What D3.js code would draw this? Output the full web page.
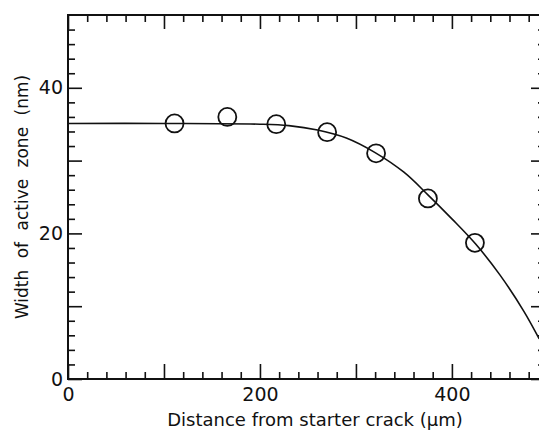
<!DOCTYPE html>
<html>
<head>
<meta charset="utf-8">
<script src="https://cdn.jsdelivr.net/npm/d3@7"></script>
<style>
  body { margin: 0; background: #fff; }
  svg { display: block; }
  text { font-family: "DejaVu Sans", sans-serif; fill: #111; }
</style>
</head>
<body>
<svg id="chart" width="539" height="430"></svg>
<script>
// measured points (distance in um, width in nm)
var pointX = [111, 166, 217, 270, 321, 375, 424];
var pointY = [35.1, 36.0, 35.0, 33.9, 31.0, 24.8, 18.7];

// fitted curve
var curveX = [0, 100, 200, 230, 260, 290, 320, 350, 375, 400, 425, 450, 475, 491];
var curveY = [35.1, 35.1, 35.0, 34.8, 34.2, 33.1, 31.1, 28.4, 25.3, 22.0, 18.5, 14.3, 9.3, 5.5];

var xLabels = [0, 200, 400];
var yLabels = [0, 20, 40];

var svg = d3.select("#chart"),
    plotLeft = 68, plotRight = 545, plotTop = 15, plotBottom = 379;

var x = d3.scaleLinear().domain([0, 497]).range([plotLeft, plotRight]);
var y = d3.scaleLinear().domain([0, 50]).range([plotBottom, plotTop]);

var minorX = d3.range(0, 497, 20).filter(function(v) { return v % 100 != 0; }),
    majorX = d3.range(0, 497, 100),
    minorY = d3.range(0, 50, 2).filter(function(v) { return v % 10 != 0; }),
    majorY = d3.range(0, 50, 10);

function fmt(list) {
    return function(d) { return list.indexOf(d) >= 0 ? d : ""; };
}

// frame
svg.append("rect")
    .attr("x", plotLeft).attr("y", plotTop)
    .attr("width", plotRight - plotLeft).attr("height", plotBottom - plotTop)
    .attr("fill", "none").attr("stroke", "#111").attr("stroke-width", 2);

function addAxis(axis, tr) {
    var g = svg.append("g").attr("transform", tr).call(axis);
    g.select(".domain").remove();
    g.selectAll("line").attr("stroke", "#111").attr("stroke-width", 1.6);
    return g;
}

// bottom
addAxis(d3.axisBottom(x).tickValues(minorX).tickSize(-7).tickFormat(""), "translate(0," + plotBottom + ")");
var bx = addAxis(d3.axisBottom(x).tickValues(majorX).tickSize(-15).tickFormat(fmt(xLabels)), "translate(0," + plotBottom + ")");
bx.selectAll("text").attr("font-size", 19).attr("dy", "0.71em").attr("y", 9);
// top
addAxis(d3.axisTop(x).tickValues(minorX).tickSize(-7).tickFormat(""), "translate(0," + plotTop + ")");
addAxis(d3.axisTop(x).tickValues(majorX).tickSize(-14).tickFormat(""), "translate(0," + plotTop + ")");
// left
addAxis(d3.axisLeft(y).tickValues(minorY).tickSize(-7).tickFormat(""), "translate(" + plotLeft + ",0)");
var ly = addAxis(d3.axisLeft(y).tickValues(majorY).tickSize(-14).tickFormat(fmt(yLabels)), "translate(" + plotLeft + ",0)");
ly.selectAll("text").attr("font-size", 19).attr("x", -5);
// right
addAxis(d3.axisRight(y).tickValues(minorY).tickSize(-7).tickFormat(""), "translate(" + plotRight + ",0)");
addAxis(d3.axisRight(y).tickValues(majorY).tickSize(-14).tickFormat(""), "translate(" + plotRight + ",0)");

// fitted curve
var line = d3.line()
    .x(function(d) { return x(d[0]); })
    .y(function(d) { return y(d[1]); })
    .curve(d3.curveCatmullRom);

svg.append("path")
    .datum(d3.zip(curveX, curveY))
    .attr("d", line)
    .attr("fill", "none")
    .attr("stroke", "#111")
    .attr("stroke-width", 1.6);

// data points
svg.append("g").selectAll("circle")
    .data(d3.zip(pointX, pointY))
    .enter().append("circle")
    .attr("cx", function(d) { return x(d[0]); })
    .attr("cy", function(d) { return y(d[1]); })
    .attr("r", 9)
    .attr("fill", "none")
    .attr("stroke", "#111")
    .attr("stroke-width", 1.8);

// axis titles
svg.append("text")
    .attr("x", 315).attr("y", 426)
    .attr("text-anchor", "middle")
    .attr("font-size", 18)
    .text("Distance from starter crack (\u00b5m)");

svg.append("text")
    .attr("transform", "translate(28,197) rotate(-90)")
    .attr("text-anchor", "middle")
    .attr("font-size", 17)
    .attr("word-spacing", 6)
    .text("Width of active zone (nm)");
</script>
</body>
</html>
